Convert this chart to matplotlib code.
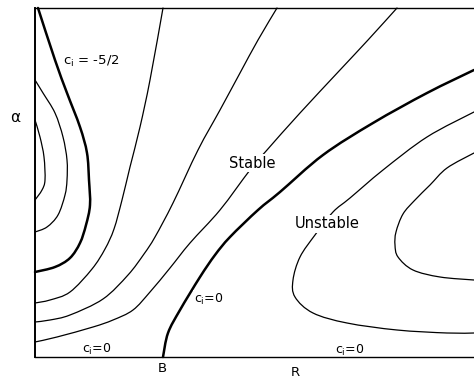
import numpy as np
import matplotlib
matplotlib.use("Agg")
import matplotlib.pyplot as plt
from matplotlib.path import Path
from matplotlib.patches import PathPatch

# Contour lines (R, alpha) in arbitrary units
c1_R = [0, 5, 9, 10, 7, 0]
c1_a = [237, 220, 200, 177, 167, 157]

c2_R = [0, 8, 20, 28, 32, 32, 30, 23, 12, 0]
c2_a = [277, 264, 244, 220, 197, 177, 162, 142, 130, 125]

c3_R = [3, 20, 32, 45, 52, 54, 55, 51, 45, 35, 20, 0]      # c_i = -5/2 (thick)
c3_a = [349, 297, 264, 230, 204, 177, 152, 132, 114, 99, 90, 85]

c4_R = [128, 115, 105, 95, 87, 79, 70, 57, 35, 15, 0]
c4_a = [349, 277, 230, 190, 157, 128, 108, 88, 65, 57, 54]

c5_R = [242, 223, 205, 185, 163, 138, 120, 109, 93, 68, 35, 15, 0]
c5_a = [349, 317, 284, 247, 207, 154, 120, 103, 82, 58, 42, 37, 35]

c6_R = [362, 333, 305, 265, 232, 215, 185, 155, 135, 115, 98, 78, 58, 22, 0]
c6_a = [349, 317, 287, 244, 207, 187, 147, 114, 89, 65, 47, 37, 30, 20, 15]

c0_R = [439, 392, 338, 288, 245, 223, 195, 180, 165, 145, 133, 128]   # c_i = 0 (thick)
c0_a = [287, 264, 234, 202, 165, 147, 120, 102, 80, 47, 24, 0]

c7_R = [439, 392, 348, 315, 298, 280, 265, 258, 260, 278, 312, 362, 412, 439]
c7_a = [245, 220, 187, 159, 145, 122, 100, 77, 60, 44, 34, 27, 24, 24]

c8_R = [439, 412, 395, 380, 368, 361, 360, 363, 378, 405, 439]
c8_a = [204, 189, 172, 157, 143, 125, 112, 100, 87, 80, 77]

thin = [(c1_R, c1_a), (c2_R, c2_a), (c4_R, c4_a), (c5_R, c5_a),
        (c6_R, c6_a), (c7_R, c7_a), (c8_R, c8_a)]
thick = [(c3_R, c3_a), (c0_R, c0_a)]


def curve_path(R, a):
    # Cubic Bezier path through the read points (matplotlib renders the curve)
    pts = np.column_stack([R, a]).astype(float)
    n = len(pts)
    verts = [pts[0]]
    codes = [Path.MOVETO]
    for i in range(n - 1):
        p0 = pts[max(i - 1, 0)]
        p1 = pts[i]
        p2 = pts[i + 1]
        p3 = pts[min(i + 2, n - 1)]
        verts += [p1 + (p2 - p0) / 6.0, p2 - (p3 - p1) / 6.0, p2]
        codes += [Path.CURVE4] * 3
    return Path(verts, codes)


fig = plt.figure(figsize=(4.74, 3.78), dpi=100)
ax = fig.add_axes([35/474, 21/378, 439/474, 349/378])
ax.set_xlim(0, 439)
ax.set_ylim(0, 349)
ax.set_xticks([])
ax.set_yticks([])
ax.spines['right'].set_visible(False)
ax.spines['top'].set_linewidth(1.0)
ax.spines['bottom'].set_linewidth(1.0)
ax.spines['left'].set_linewidth(1.4)

for R, a in thin:
    ax.add_patch(PathPatch(curve_path(R, a), fill=False, edgecolor='black',
                           lw=0.9, capstyle='round', clip_on=False))
for R, a in thick:
    ax.add_patch(PathPatch(curve_path(R, a), fill=False, edgecolor='black',
                           lw=1.8, capstyle='round', clip_on=False))

box = dict(facecolor='white', edgecolor='none', pad=1.0)
ax.text(56, 296, r'$\mathregular{c_i}$ = -5/2', fontsize=9.5, ha='center', va='center', bbox=box, zorder=5)
ax.text(217, 194, 'Stable', fontsize=10.5, ha='center', va='center', bbox=box, zorder=5)
ax.text(292, 133, 'Unstable', fontsize=10.5, ha='center', va='center', bbox=box, zorder=5)
ax.text(174, 58, r'$\mathregular{c_i}$=0', fontsize=9, ha='center', va='center', bbox=box, zorder=5)
ax.text(62, 8, r'$\mathregular{c_i}$=0', fontsize=9, ha='center', va='center', zorder=5)
ax.text(315, 7, r'$\mathregular{c_i}$=0', fontsize=9, ha='center', va='center', zorder=5)

fig.text(15/474, 1 - 117/378, 'α', fontsize=11, ha='center', va='center')
fig.text(162/474, 1 - 369/378, 'B', fontsize=9.5, ha='center', va='center')
fig.text(295/474, 1 - 372/378, 'R', fontsize=9.5, ha='center', va='center')

fig.savefig('out.png', dpi=100)
